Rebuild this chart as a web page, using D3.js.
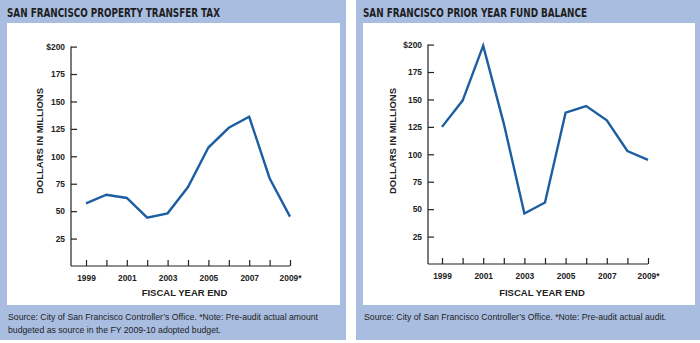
<!DOCTYPE html>
<html>
<head>
<meta charset="utf-8">
<script src="https://cdn.jsdelivr.net/npm/d3@7"></script>
<style>
  body { margin: 0; background: #fff; }
  svg { display: block; }
  .title { font-family: "DejaVu Sans Condensed", "DejaVu Sans", sans-serif; font-weight: bold; font-size: 13px; fill: #1e1e1e; }
  .axis text { font-family: "Liberation Sans", Arial, sans-serif; font-weight: bold; font-size: 8.4px; fill: #222; }
  .axis path, .axis line { stroke: #222; stroke-width: 1.2; }
  .axis-title { font-family: "Liberation Sans", Arial, sans-serif; font-weight: bold; font-size: 9.5px; fill: #222; }
  .source { font-family: "Liberation Sans", Arial, sans-serif; font-size: 8.7px; fill: #1e1e1e; }
</style>
</head>
<body>
<svg id="chart" width="700" height="343"></svg>
<script>
const years = [1999, 2000, 2001, 2002, 2003, 2004, 2005, 2006, 2007, 2008, 2009];
const yearLabels = ["1999", "", "2001", "", "2003", "", "2005", "", "2007", "", "2009*"];
const yTicks = [25, 50, 75, 100, 125, 150, 175, 200];

const transferTax = [57, 65, 62, 44, 48, 72, 108, 126, 136, 80, 45];
const fundBalance = [125, 149, 199, 128, 46, 56, 138, 144, 131, 103, 95];

const svg = d3.select("#chart");
const panelFill = "#a9bde0";
const lineColor = "#1d5ea3";

const render = (opts) => {
  const g = svg.append("g").attr("transform", "translate(" + opts.x + ", 0)");

  g.append("rect")
    .attr("width", opts.width)
    .attr("height", 340)
    .attr("fill", panelFill);

  g.append("rect")
    .attr("x", opts.inset)
    .attr("y", 23)
    .attr("width", opts.innerWidth)
    .attr("height", 282)
    .attr("fill", "#fff");

  g.append("text")
    .attr("class", "title")
    .attr("x", opts.titleX)
    .attr("y", 17)
    .attr("textLength", opts.titleWidth)
    .attr("lengthAdjust", "spacingAndGlyphs")
    .text(opts.title);

  const xScale = d3.scaleLinear().domain([1999, 2009]).range([opts.x0, opts.x1]);
  const yScale = d3.scaleLinear().domain([0, 200]).range([opts.y0, opts.y0 - 219.4]);

  const xAxis = d3.axisBottom(xScale)
    .tickValues(years)
    .tickSizeInner(-6)
    .tickSizeOuter(0)
    .tickPadding(9)
    .tickFormat((d, i) => yearLabels[i]);

  const yAxis = d3.axisLeft(yScale)
    .tickValues(yTicks)
    .tickSizeInner(-6)
    .tickSizeOuter(0)
    .tickPadding(6)
    .tickFormat((d) => (d === 200 ? "$200" : d));

  g.append("g")
    .attr("class", "x axis")
    .attr("transform", "translate(0, " + opts.y0 + ")")
    .call(xAxis)
    .call((a) => a.select(".domain").attr("d", "M" + opts.ax + ",0H" + opts.x1));

  g.append("g")
    .attr("class", "y axis")
    .attr("transform", "translate(" + opts.ax + ", 0)")
    .call(yAxis)
    .call((a) => a.select(".domain").attr("d", "M0," + opts.y0 + "V" + yScale(200)));

  g.append("text")
    .attr("class", "axis-title")
    .attr("text-anchor", "middle")
    .attr("transform", "translate(" + opts.yTitleX + ", " + 141 + ") rotate(-90)")
    .text("DOLLARS IN MILLIONS");

  g.append("text")
    .attr("class", "axis-title")
    .attr("text-anchor", "middle")
    .attr("x", (opts.ax + opts.x1) / 2 + 4)
    .attr("y", 296)
    .text("FISCAL YEAR END");

  const line = d3.line()
    .x((d, i) => xScale(years[i]))
    .y((d) => yScale(d));

  g.append("path")
    .datum(opts.values)
    .attr("d", line)
    .attr("fill", "none")
    .attr("stroke", lineColor)
    .attr("stroke-width", 2.4)
    .attr("stroke-linejoin", "miter");

  opts.source.forEach((s, i) => {
    g.append("text")
      .attr("class", "source")
      .attr("x", opts.inset + 1)
      .attr("y", 320 + i * 12.5)
      .text(s);
  });
};

render({
  x: 0,
  width: 346,
  inset: 7,
  innerWidth: 333,
  title: "SAN FRANCISCO PROPERTY TRANSFER TAX",
  titleX: 7,
  titleWidth: 213,
  ax: 71,
  x0: 86,
  x1: 290,
  y0: 266,
  yTitleX: 43,
  values: transferTax,
  source: [
    "Source: City of San Francisco Controller\u2019s Office. *Note: Pre-audit actual amount",
    "budgeted as source in the FY 2009-10 adopted budget."
  ]
});

render({
  x: 356,
  width: 344,
  inset: 7,
  innerWidth: 332,
  title: "SAN FRANCISCO PRIOR YEAR FUND BALANCE",
  titleX: 7,
  titleWidth: 224,
  ax: 72,
  x0: 86,
  x1: 292,
  y0: 264,
  yTitleX: 40,
  values: fundBalance,
  source: [
    "Source: City of San Francisco Controller\u2019s Office. *Note: Pre-audit actual audit."
  ]
});
</script>
</body>
</html>
